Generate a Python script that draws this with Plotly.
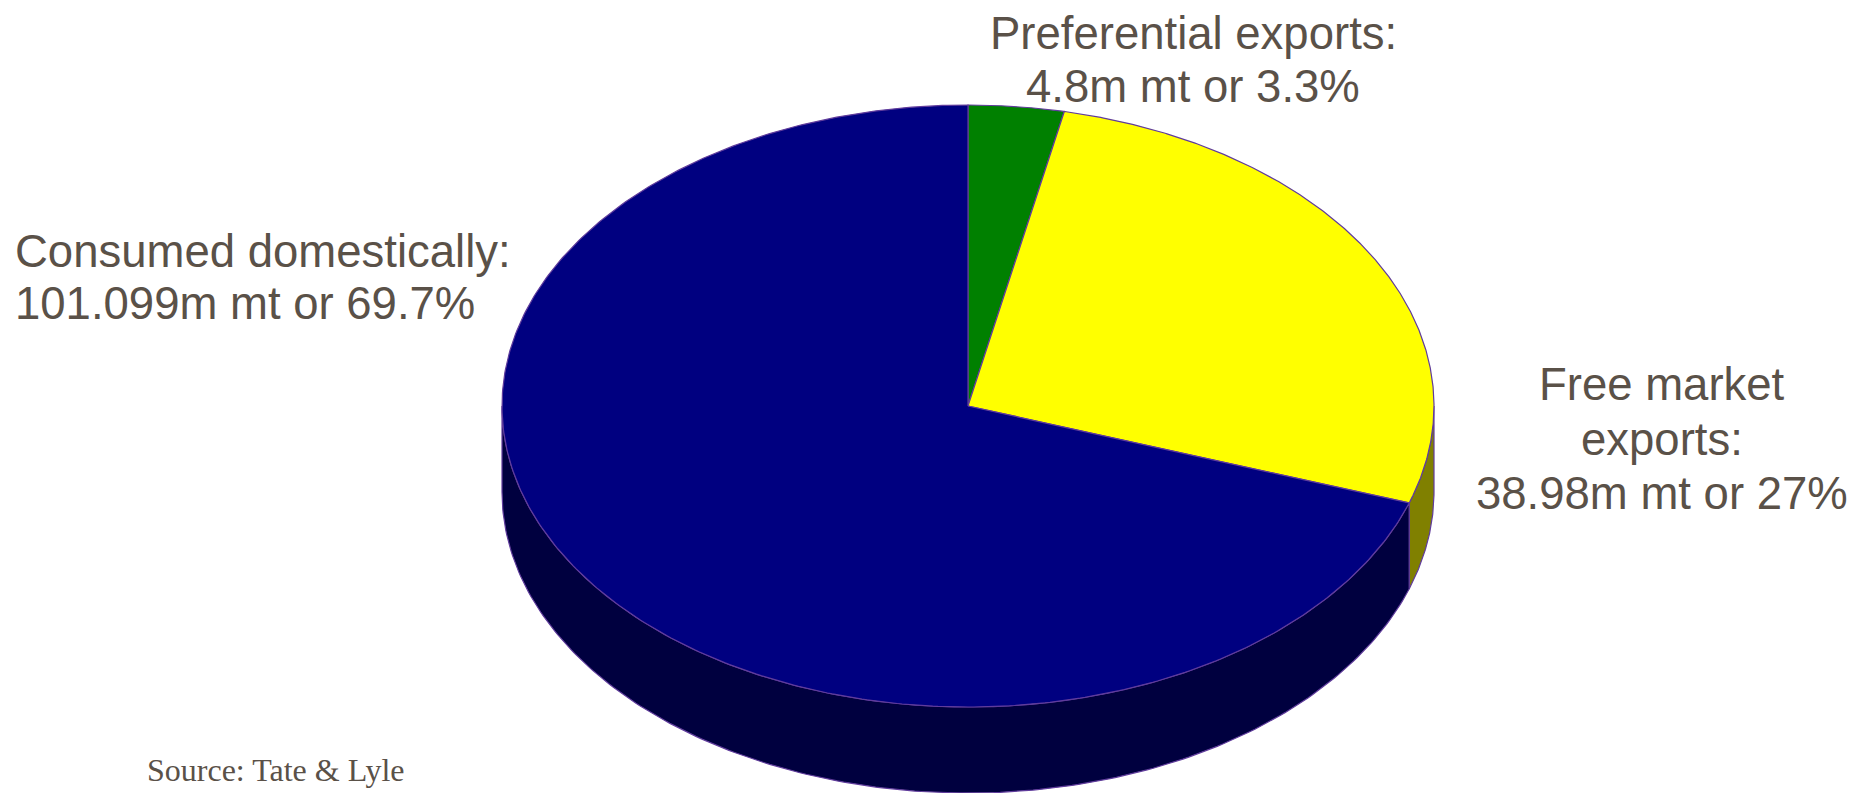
import numpy as np
import plotly.graph_objects as go

# ---- data ----
categories = ["Preferential exports", "Free market exports", "Consumed domestically"]
values = [4.8, 38.98, 101.099]          # million metric tonnes
value_labels = ["4.8m mt", "38.98m mt", "101.099m mt"]
percent_labels = ["3.3%", "27%", "69.7%"]
label_lines = [
    ["Preferential exports:", "4.8m mt or 3.3%"],
    ["Free market", "exports:", "38.98m mt or 27%"],
    ["Consumed domestically:", "101.099m mt or 69.7%"],
]
source_text = "Source: Tate & Lyle"

# ---- style ----
top_colors = ["#008000", "#FFFF00", "#000080"]
side_colors = ["#004000", "#808000", "#00003F"]
edge_color = "#603C9C"
text_color = "#5A5148"

W, H = 1871, 793
OFF = 8  # page body margin; axis ranges shifted so data coords = page pixels
cx, cy, rx, ry, depth = 968, 406, 466, 301, 86


def pt(theta_deg, dz=0.0):
    t = np.radians(theta_deg)
    return cx + rx * np.sin(t), cy - ry * np.cos(t) + dz


total = float(sum(values))
bounds = np.concatenate([[0.0], np.cumsum(values) / total * 360.0])

fig = go.Figure()

# side walls (only the front half of the pie is visible)
for i, cat in enumerate(categories):
    a, b = bounds[i], bounds[i + 1]
    lo, hi = max(a, 90.0), min(b, 270.0)
    if lo >= hi:
        continue
    th = np.linspace(lo, hi, 200)
    xt, yt = pt(th)
    xb, yb = pt(th[::-1], depth)
    xs = np.concatenate([xt, xb, xt[:1]])
    ys = np.concatenate([yt, yb, yt[:1]])
    fig.add_trace(go.Scatter(x=xs, y=ys, mode="lines", fill="toself",
                             fillcolor=side_colors[i],
                             line=dict(color=edge_color, width=1.2),
                             hoverinfo="text", text=cat, showlegend=False))

# top faces
for i, cat in enumerate(categories):
    a, b = bounds[i], bounds[i + 1]
    th = np.linspace(a, b, 400)
    xa, ya = pt(th)
    xs = np.concatenate([[cx], xa, [cx]])
    ys = np.concatenate([[cy], ya, [cy]])
    fig.add_trace(go.Scatter(x=xs, y=ys, mode="lines", fill="toself",
                             fillcolor=top_colors[i],
                             line=dict(color=edge_color, width=1.2),
                             hoverinfo="text",
                             text=f"{cat}: {value_labels[i]} or {percent_labels[i]}",
                             showlegend=False))

# labels (one annotation per line)
label_pos = [
    dict(x=1193, ys=[33, 86], anchor="center"),
    dict(x=1662, ys=[384, 439, 493], anchor="center"),
    dict(x=13, ys=[251, 303], anchor="left"),
]
font = dict(family="Liberation Sans, Arial, sans-serif", size=45.5, color=text_color)
for lines, pos in zip(label_lines, label_pos):
    for line, y in zip(lines, pos["ys"]):
        fig.add_annotation(x=pos["x"], y=y, xref="x", yref="y", text=line,
                           showarrow=False, xanchor=pos["anchor"], yanchor="middle",
                           font=font)

fig.add_annotation(x=145, y=770, xref="x", yref="y", text=source_text,
                   showarrow=False, xanchor="left", yanchor="middle",
                   font=dict(family="Liberation Serif, Times New Roman, serif",
                             size=32, color=text_color))

fig.update_layout(
    width=W, height=H,
    margin=dict(l=0, r=0, t=0, b=0),
    paper_bgcolor="white", plot_bgcolor="white",
    xaxis=dict(range=[OFF, W + OFF], visible=False, fixedrange=True),
    yaxis=dict(range=[H + OFF, OFF], visible=False, fixedrange=True),
)

fig.write_html("out.html")
